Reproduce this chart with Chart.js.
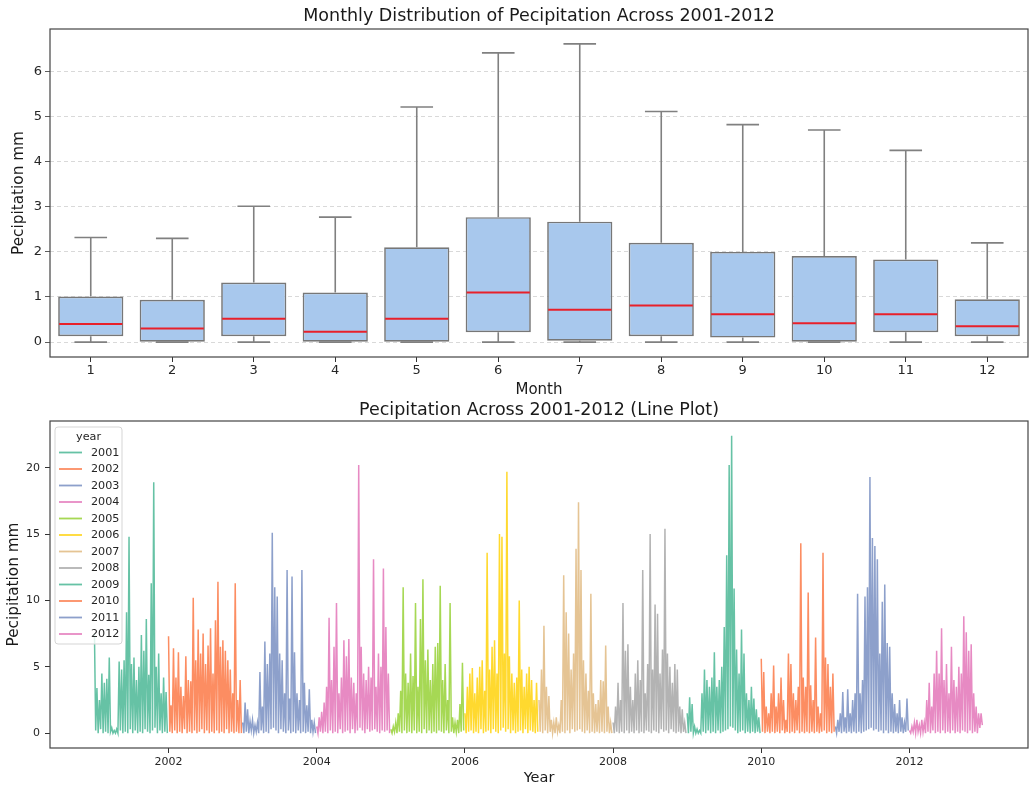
<!DOCTYPE html>
<html>
<head>
<meta charset="utf-8">
<script src="https://cdn.jsdelivr.net/npm/chart.js@4.4.1/dist/chart.umd.min.js"></script>
<style>
  html, body { margin: 0; padding: 0; background: #fff; overflow: hidden; }
  #topBox { position: absolute; left: 0; top: 0; }
  #bottomBox { position: absolute; left: 0; top: 400px; }
</style>
</head>
<body>
<div id="topBox"><canvas id="boxChart" width="1029" height="400"></canvas></div>
<div id="bottomBox"><canvas id="lineChart" width="1029" height="388"></canvas></div>
<script>
// monthly box plot stats (mm)
const months = ['1', '2', '3', '4', '5', '6', '7', '8', '9', '10', '11', '12'];
const whiskerLow = [0, 0, 0, 0, 0, 0, 0, 0, 0, 0, 0, 0];
const q1 = [0.13, 0, 0.13, 0, 0, 0.22, 0.03, 0.13, 0.10, 0, 0.22, 0.13];
const medians = [0.40, 0.30, 0.52, 0.23, 0.52, 1.10, 0.72, 0.81, 0.62, 0.42, 0.62, 0.35];
const q3 = [1.01, 0.94, 1.32, 1.10, 2.10, 2.77, 2.67, 2.20, 2.00, 1.91, 1.83, 0.95];
const whiskerHigh = [2.32, 2.30, 3.01, 2.77, 5.21, 6.41, 6.61, 5.11, 4.82, 4.70, 4.25, 2.20];
const boxTicks = [0, 1, 2, 3, 4, 5, 6];

// precipitation readings, 60 per year
const years = ['2001', '2002', '2003', '2004', '2005', '2006', '2007', '2008', '2009', '2010', '2011', '2012'];
const rain2001 = [7.5, 0.2, 3.4, 0.0, 2.5, 0.3, 4.5, 0.0, 3.8, 0.1, 4.1, 0.0, 5.7, 0.1, 0.4, 0.0, 0.2, 0.0, 0.3, 0.0,
  5.4, 0.2, 4.8, 0.0, 5.5, 0.1, 9.1, 0.0, 14.8, 0.3, 5.2, 0.0, 5.7, 0.2, 4.0, 0.0, 5.0, 0.1, 7.4, 0.0,
  6.2, 0.3, 8.6, 0.1, 4.4, 0.0, 11.3, 0.2, 18.9, 0.4, 5.0, 0.0, 6.0, 0.2, 3.0, 0.0, 4.2, 0.1, 3.1, 0.0];
const rain2002 = [7.3, 0.1, 2.1, 0.0, 6.4, 0.2, 4.2, 0.0, 6.1, 0.1, 3.5, 0.0, 2.8, 0.3, 5.8, 0.0, 4.0, 0.1, 3.9, 0.0,
  10.2, 0.2, 5.5, 0.0, 7.8, 0.1, 6.0, 0.3, 7.5, 0.0, 5.2, 0.2, 6.6, 0.0, 7.9, 0.1, 4.5, 0.0, 8.5, 0.2,
  11.4, 0.0, 6.5, 0.1, 7.0, 0.0, 6.2, 0.3, 5.5, 0.0, 4.8, 0.1, 3.0, 0.0, 11.3, 0.1, 2.5, 0.0, 4.0, 0.0];
const rain2003 = [0.8, 0.0, 2.3, 0.1, 1.8, 0.0, 0.9, 0.2, 1.0, 0.0, 0.6, 0.1, 0.8, 0.0, 4.6, 0.2, 2.0, 0.0, 6.9, 0.1,
  5.2, 0.0, 6.0, 0.3, 15.1, 0.4, 11.0, 0.2, 10.3, 0.0, 6.0, 0.3, 5.5, 0.1, 3.0, 0.0, 12.3, 0.2, 2.6, 0.0,
  11.8, 0.1, 6.1, 0.0, 3.0, 0.2, 2.5, 0.0, 12.3, 0.1, 3.8, 0.0, 2.1, 0.1, 3.3, 0.0, 1.0, 0.1, 0.8, 0.0];
const rain2004 = [0.5, 0.0, 1.2, 0.1, 1.6, 0.0, 2.3, 0.1, 3.5, 0.0, 8.7, 0.2, 4.0, 0.0, 6.5, 0.1, 9.8, 0.0, 3.0, 0.3,
  4.2, 0.0, 7.0, 0.1, 5.8, 0.2, 7.1, 0.0, 4.2, 0.3, 3.8, 0.0, 3.0, 0.2, 20.2, 0.4, 6.5, 0.2, 4.5, 0.0,
  4.0, 0.3, 5.0, 0.1, 4.2, 0.2, 13.1, 0.3, 3.5, 0.1, 6.0, 0.0, 5.0, 0.2, 12.4, 0.1, 8.0, 0.2, 4.5, 0.0];
const rain2005 = [0.3, 0.0, 0.5, 0.1, 0.8, 0.0, 1.5, 0.1, 3.2, 0.0, 11.0, 0.2, 4.5, 0.0, 3.8, 0.1, 6.0, 0.0, 4.3, 0.2,
  9.8, 0.0, 3.5, 0.1, 8.6, 0.0, 11.6, 0.3, 5.5, 0.0, 6.3, 0.2, 4.0, 0.0, 5.2, 0.1, 6.5, 0.0, 6.8, 0.2,
  11.1, 0.1, 4.0, 0.0, 5.2, 0.2, 2.5, 0.0, 9.8, 0.1, 1.2, 0.0, 0.8, 0.1, 1.0, 0.0, 2.2, 0.1, 5.3, 0.2];
const rain2006 = [1.5, 0.0, 3.5, 0.1, 4.5, 0.2, 4.9, 0.0, 3.0, 0.1, 4.2, 0.0, 5.0, 0.3, 5.5, 0.0, 3.2, 0.1, 13.6, 0.2,
  4.8, 0.0, 6.5, 0.3, 7.0, 0.1, 4.5, 0.0, 15.0, 0.2, 14.8, 0.4, 6.0, 0.1, 19.7, 0.3, 5.8, 0.0, 4.5, 0.2,
  3.8, 0.0, 4.2, 0.1, 10.0, 0.2, 4.8, 0.0, 3.5, 0.3, 4.5, 0.0, 5.0, 0.2, 4.0, 0.1, 2.5, 0.0, 3.8, 0.1];
const rain2007 = [2.5, 0.1, 4.8, 0.0, 8.1, 0.2, 3.5, 0.0, 2.8, 0.1, 1.0, 0.0, 0.8, 0.0, 1.2, 0.1, 0.6, 0.0, 2.5, 0.1,
  11.9, 0.0, 9.1, 0.2, 7.5, 0.0, 4.8, 0.3, 6.0, 0.1, 13.9, 0.2, 17.4, 0.3, 12.3, 0.1, 5.5, 0.0, 4.5, 0.2,
  3.2, 0.0, 10.5, 0.1, 3.0, 0.0, 2.2, 0.1, 2.5, 0.0, 4.0, 0.1, 3.9, 0.0, 6.6, 0.1, 2.0, 0.0, 0.8, 0.0];
const rain2008 = [0.8, 0.0, 2.0, 0.1, 3.8, 0.0, 2.5, 0.1, 9.8, 0.0, 6.2, 0.2, 6.7, 0.0, 3.5, 0.1, 2.5, 0.0, 4.5, 0.2,
  5.5, 0.0, 4.0, 0.1, 12.3, 0.0, 3.0, 0.2, 5.2, 0.1, 15.0, 0.0, 4.8, 0.2, 9.7, 0.1, 9.0, 0.0, 4.5, 0.3,
  6.3, 0.1, 15.4, 0.2, 6.0, 0.0, 5.0, 0.3, 3.8, 0.1, 5.2, 0.0, 4.8, 0.1, 2.0, 0.0, 1.8, 0.1, 0.8, 0.0];
const rain2009 = [1.5, 0.0, 2.7, 0.1, 2.2, 0.0, 0.5, 0.0, 0.3, 0.0, 0.2, 0.0, 3.0, 0.1, 4.8, 0.0, 4.0, 0.2, 3.5, 0.0,
  4.2, 0.1, 6.1, 0.0, 3.5, 0.2, 4.0, 0.0, 5.0, 0.1, 8.0, 0.2, 13.4, 0.3, 20.2, 0.5, 22.4, 0.4, 10.9, 0.2,
  6.3, 0.0, 4.5, 0.1, 7.8, 0.2, 6.0, 0.0, 3.0, 0.1, 2.5, 0.0, 3.5, 0.1, 2.6, 0.0, 1.8, 0.1, 1.2, 0.0];
const rain2010 = [5.6, 0.1, 4.6, 0.0, 2.0, 0.1, 1.5, 0.0, 3.0, 0.1, 5.1, 0.0, 2.0, 0.1, 3.0, 0.0, 4.2, 0.2, 2.5, 0.0,
  1.0, 0.1, 6.0, 0.0, 5.2, 0.1, 3.0, 0.0, 2.5, 0.2, 3.5, 0.0, 14.3, 0.1, 4.2, 0.0, 3.5, 0.1, 10.6, 0.0,
  3.6, 0.1, 2.5, 0.0, 7.2, 0.1, 2.0, 0.0, 1.5, 0.1, 13.6, 0.2, 5.7, 0.0, 5.2, 0.1, 3.5, 0.0, 4.5, 0.1];
const rain2011 = [0.5, 0.0, 1.0, 0.1, 1.5, 0.0, 3.1, 0.1, 1.2, 0.0, 3.3, 0.1, 1.5, 0.0, 2.5, 0.1, 3.0, 0.0, 10.5, 0.1,
  3.0, 0.0, 4.0, 0.1, 10.3, 0.2, 11.0, 0.3, 19.3, 0.4, 14.7, 0.2, 14.1, 0.3, 13.1, 0.1, 6.0, 0.2, 9.9, 0.0,
  11.2, 0.2, 6.8, 0.0, 6.5, 0.1, 3.0, 0.0, 2.2, 0.1, 1.5, 0.0, 2.5, 0.1, 1.2, 0.0, 0.8, 0.1, 2.6, 0.2];
const rain2012 = [0.2, 0.0, 0.5, 0.1, 0.8, 0.0, 1.0, 0.1, 0.6, 0.0, 1.0, 0.1, 0.8, 0.0, 2.5, 0.1, 3.8, 0.0, 2.0, 0.2,
  4.5, 0.0, 6.2, 0.1, 4.5, 0.0, 7.9, 0.2, 4.0, 0.0, 5.2, 0.1, 3.0, 0.0, 6.5, 0.2, 4.0, 0.0, 3.5, 0.1,
  5.0, 0.0, 4.5, 0.2, 8.8, 0.1, 7.6, 0.0, 6.2, 0.2, 6.7, 0.0, 3.0, 0.1, 2.0, 0.0, 1.5, 0.4, 1.5, 0.6];
const rainByYear = [rain2001, rain2002, rain2003, rain2004, rain2005, rain2006,
  rain2007, rain2008, rain2009, rain2010, rain2011, rain2012];
const yearTicks = [2002, 2004, 2006, 2008, 2010, 2012];
const rainTicks = [0, 5, 10, 15, 20];

const set2 = ['#66c2a5', '#fc8d62', '#8da0cb', '#e78ac3', '#a6d854', '#ffd92f',
  '#e5c494', '#b3b3b3', '#66c2a5', '#fc8d62', '#8da0cb', '#e78ac3'];

Chart.defaults.font.family = '"DejaVu Sans", sans-serif';
Chart.defaults.color = '#262626';

// box frame on all four sides
const frame = {
  id: 'frame',
  afterDraw(chart) {
    const { ctx, chartArea: a } = chart;
    ctx.save();
    ctx.strokeStyle = '#444';
    ctx.lineWidth = 1.2;
    ctx.strokeRect(a.left, a.top, a.right - a.left, a.bottom - a.top);
    ctx.restore();
  }
};

// whiskers, caps and medians on top of the floating bars
const boxWhiskers = {
  id: 'boxWhiskers',
  afterDatasetsDraw(chart) {
    const { ctx } = chart;
    const y = chart.scales.y;
    const bars = chart.getDatasetMeta(0).data;
    ctx.save();
    bars.forEach((bar, i) => {
      const cx = bar.x;
      const half = bar.width / 2;
      const cap = bar.width / 4;
      const yLo = y.getPixelForValue(whiskerLow[i]);
      const yQ1 = y.getPixelForValue(q1[i]);
      const yQ3 = y.getPixelForValue(q3[i]);
      const yHi = y.getPixelForValue(whiskerHigh[i]);
      const yMed = y.getPixelForValue(medians[i]);
      ctx.strokeStyle = '#808080';
      ctx.lineWidth = 1.6;
      ctx.beginPath();
      ctx.moveTo(cx, yQ3); ctx.lineTo(cx, yHi);
      ctx.moveTo(cx - cap, yHi); ctx.lineTo(cx + cap, yHi);
      ctx.moveTo(cx, yQ1); ctx.lineTo(cx, yLo);
      ctx.moveTo(cx - cap, yLo); ctx.lineTo(cx + cap, yLo);
      ctx.stroke();
      ctx.strokeStyle = '#e8202a';
      ctx.lineWidth = 2;
      ctx.beginPath();
      ctx.moveTo(cx - half + 1, yMed); ctx.lineTo(cx + half - 1, yMed);
      ctx.stroke();
    });
    ctx.restore();
  }
};

new Chart(document.getElementById('boxChart'), {
  type: 'bar',
  data: {
    labels: months,
    datasets: [{
      data: months.map((m, i) => [q1[i], q3[i]]),
      backgroundColor: '#a8c8ed',
      borderColor: '#777',
      borderWidth: 1.7,
      borderSkipped: false,
      barPercentage: 0.8,
      categoryPercentage: 1
    }]
  },
  options: {
    responsive: false,
    animation: false,
    layout: { padding: { left: 0, right: 1, top: 0, bottom: 0 } },
    plugins: {
      legend: { display: false },
      tooltip: { enabled: false },
      title: {
        display: true,
        fullSize: false,
        text: 'Monthly Distribution of Pecipitation Across 2001-2012',
        font: { size: 17.5, weight: 'normal' },
        color: '#1a1a1a',
        padding: { top: 6, bottom: 2 }
      }
    },
    scales: {
      x: {
        grid: { offset: false, drawOnChartArea: false, drawTicks: true, tickLength: 5, tickColor: '#333' },
        border: { display: false },
        ticks: { font: { size: 13 }, color: '#262626', padding: 1 },
        title: { display: true, text: 'Month', font: { size: 15 }, color: '#1a1a1a', padding: { top: 0, bottom: 1 } },
        afterFit(s) { s.height = 43; }
      },
      y: {
        min: -0.33,
        max: 6.94,
        afterBuildTicks(s) { s.ticks = boxTicks.map(v => ({ value: v })); },
        grid: { color: '#cfcfcf', lineWidth: 0.8, drawTicks: true, tickLength: 5, tickColor: '#333', tickBorderDash: [] },
        border: { display: false, dash: [4, 3] },
        ticks: { font: { size: 13 }, color: '#262626', padding: 3 },
        title: { display: true, text: 'Pecipitation mm', font: { size: 15.3 }, color: '#1a1a1a', padding: { top: 10, bottom: 0 } },
        afterFit(s) { s.width = 50; }
      }
    }
  },
  plugins: [boxWhiskers, frame]
});

// legend box in the upper left corner of the plot
const yearLegend = {
  id: 'yearLegend',
  afterDatasetsDraw(chart) {
    const { ctx, chartArea: a } = chart;
    const x0 = a.left + 5, y0 = a.top + 6, w = 67, h = 217;
    ctx.save();
    ctx.fillStyle = 'rgba(255,255,255,0.8)';
    ctx.strokeStyle = '#d5d5d5';
    ctx.lineWidth = 1;
    ctx.beginPath();
    ctx.roundRect(x0, y0, w, h, 3);
    ctx.fill();
    ctx.stroke();
    ctx.font = '11.2px "DejaVu Sans"';
    ctx.fillStyle = '#262626';
    ctx.textBaseline = 'middle';
    ctx.textAlign = 'center';
    ctx.fillText('year', x0 + w / 2, y0 + 10);
    ctx.textAlign = 'left';
    chart.data.datasets.forEach((ds, k) => {
      const ly = y0 + 25.5 + k * 16.5;
      ctx.strokeStyle = ds.borderColor;
      ctx.lineWidth = 1.8;
      ctx.beginPath();
      ctx.moveTo(x0 + 4, ly);
      ctx.lineTo(x0 + 27, ly);
      ctx.stroke();
      ctx.fillText(ds.label, x0 + 36, ly + 0.5);
    });
    ctx.restore();
  }
};

new Chart(document.getElementById('lineChart'), {
  type: 'line',
  data: {
    datasets: years.map((yr, k) => ({
      label: yr,
      data: rainByYear[k].map((v, i) => ({ x: Number(yr) + i / rainByYear[k].length, y: v })),
      borderColor: set2[k],
      borderWidth: 1.5,
      pointRadius: 0,
      fill: false,
      tension: 0
    }))
  },
  options: {
    responsive: false,
    animation: false,
    layout: { padding: { left: 0, right: 1, top: 0, bottom: 0 } },
    plugins: {
      legend: { display: false },
      tooltip: { enabled: false },
      title: {
        display: true,
        fullSize: false,
        text: 'Pecipitation Across 2001-2012 (Line Plot)',
        font: { size: 17.5, weight: 'normal' },
        color: '#1a1a1a',
        padding: { top: 0, bottom: 0 }
      }
    },
    scales: {
      x: {
        type: 'linear',
        min: 2000.4,
        max: 2013.6,
        afterBuildTicks(s) { s.ticks = yearTicks.map(v => ({ value: v })); },
        grid: { drawOnChartArea: false, drawTicks: true, tickLength: 5, tickColor: '#333' },
        border: { display: false },
        ticks: { font: { size: 11 }, color: '#262626', padding: 3, callback: v => String(v) },
        title: { display: true, text: 'Year', font: { size: 14.5 }, color: '#1a1a1a', padding: { top: 0, bottom: 1.3 } },
        afterFit(s) { s.height = 40; }
      },
      y: {
        min: -1.12,
        max: 23.52,
        afterBuildTicks(s) { s.ticks = rainTicks.map(v => ({ value: v })); },
        grid: { drawOnChartArea: false, drawTicks: true, tickLength: 5, tickColor: '#333' },
        border: { display: false },
        ticks: { font: { size: 11 }, color: '#262626', padding: 5 },
        title: { display: true, text: 'Pecipitation mm', font: { size: 15.3 }, color: '#1a1a1a', padding: { top: 5, bottom: 0 } },
        afterFit(s) { s.width = 50; }
      }
    }
  },
  plugins: [yearLegend, frame]
});
</script>
</body>
</html>
